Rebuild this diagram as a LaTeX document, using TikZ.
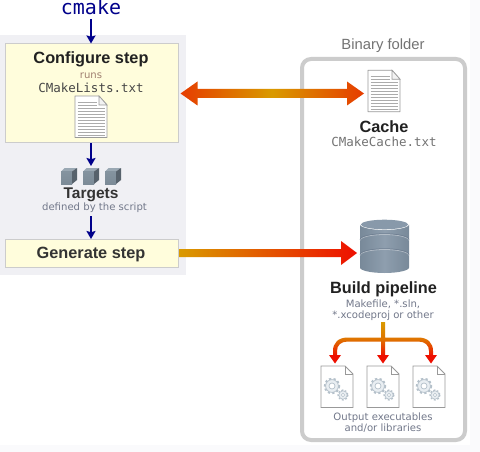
\documentclass[tikz,border=0pt]{standalone}
\usepackage{fontspec}
\setmainfont{Liberation Sans}
\newfontfamily\djsans{DejaVu Sans}
\newfontfamily\djmono{DejaVu Sans Mono}
\usetikzlibrary{arrows.meta,calc}
\definecolor{panelgray}{HTML}{F0F0F4}
\definecolor{pagetint}{HTML}{FAFAFC}
\definecolor{stepfill}{HTML}{FFFDDC}
\definecolor{stepline}{HTML}{CCCCCC}
\definecolor{navyline}{HTML}{00008B}
\definecolor{amber}{HTML}{D99A00}
\definecolor{hotorange}{HTML}{E63C00}
\definecolor{hotred}{HTML}{EE0F00}
\definecolor{docline}{HTML}{999999}
\definecolor{docrule}{HTML}{ABABAB}
\definecolor{gearline}{HTML}{B4C0CA}
\definecolor{gearfill}{HTML}{E9EEF2}
\definecolor{smalltext}{HTML}{72788A}
\definecolor{runstext}{HTML}{A08070}
\definecolor{cubefront}{HTML}{84939F}
\definecolor{cubefrontb}{HTML}{7C8B97}
\definecolor{cubetop}{HTML}{9AA8B3}
\definecolor{cubeside}{HTML}{57626C}
\definecolor{dbedge}{HTML}{788999}
\definecolor{dbmid}{HTML}{8E9EAE}
\definecolor{dbtop}{HTML}{8899AA}
\definecolor{dbseam}{HTML}{66768A}
\tikzset{
  x=1pt,y=-1pt,
  lab/.style={anchor=base,inner sep=0pt,align=center},
  boldlab/.style={lab,font=\fontsize{16.3}{16.3}\selectfont\bfseries},
  smalllab/.style={lab,font=\djsans\fontsize{10.1}{10.1}\selectfont,text=smalltext},
  monolab/.style={lab,font=\djmono\fontsize{12.5}{12.5}\selectfont},
  stepbox/.style={draw=stepline,fill=stepfill,line width=1pt,inner sep=0pt},
  iconbox/.style={inner sep=0pt,outer sep=0pt},
  navyarrow/.style={draw=navyline,line width=1.7pt,-{Stealth[length=8pt,width=9pt,inset=1.2pt]}},
  docicon/.pic={
    \fill[white] (0,0) -- (24,0) -- (32,9) -- (32,41.5) -- (0,41.5) -- cycle;
    \foreach \yy in {6,9,...,39} {
      \draw[docrule,line width=.6pt] (2.5,\yy) -- (\ifnum\yy<10 22\else 29.5\fi,\yy);
    }
    \draw[docline,line width=.9pt,line join=round] (0,0) -- (24,0) -- (32,9) -- (32,41.5) -- (0,41.5) -- cycle;
    \draw[docline,line width=.6pt,fill=black!5] (24,0) -- (24,9) -- (32,9) -- cycle;
  },
  gearicon/.pic={
    \fill[white] (0,0) -- (24,0) -- (32,8) -- (32,41.5) -- (0,41.5) -- cycle;
    \draw[docline,line width=.9pt] (0,0) -- (24,0) -- (32,8) -- (32,41.5) -- (0,41.5) -- cycle;
    \draw[docline,line width=.6pt] (24,0) -- (24,8) -- (32,8);
    \draw[gearline,line width=2pt,dash pattern=on 2.2pt off 2.2pt] (11,20) circle[radius=7.2];
    \draw[gearline,fill=gearfill,line width=.7pt] (11,20) circle[radius=6.4];
    \draw[gearline,fill=white,line width=.7pt] (11,20) circle[radius=3];
    \draw[gearline,line width=1.6pt,dash pattern=on 1.7pt off 1.7pt] (22,29) circle[radius=4.8];
    \draw[gearline,fill=gearfill,line width=.6pt] (22,29) circle[radius=4.2];
    \draw[gearline,fill=white,line width=.6pt] (22,29) circle[radius=1.8];
  },
  cubeicon/.pic={
    \fill[cubetop] (0,3.5) -- (3.5,0) -- (16,0) -- (11,3.5) -- cycle;
    \shade[top color=cubefront,bottom color=cubefrontb] (0,3.5) rectangle (11,16);
    \fill[cubeside] (11,3.5) -- (16,0) -- (16,12) -- (11,16) -- cycle;
  },
  dbicon/.pic={
    \shade[left color=dbedge,right color=dbedge,middle color=dbmid]
      (0,5.5) arc[start angle=180,end angle=0,x radius=24.5,y radius=5.5]
      -- (49,48.5) arc[start angle=0,end angle=180,x radius=24.5,y radius=5.5] -- cycle;
    \draw[white,line width=.8pt,opacity=.4] (0,21.5) arc[start angle=180,end angle=360,x radius=24.5,y radius=6];
    \draw[dbseam,line width=.7pt,opacity=.7] (0,20.7) arc[start angle=180,end angle=360,x radius=24.5,y radius=6];
    \draw[white,line width=.8pt,opacity=.4] (0,36.5) arc[start angle=180,end angle=360,x radius=24.5,y radius=6];
    \draw[dbseam,line width=.7pt,opacity=.7] (0,35.7) arc[start angle=180,end angle=360,x radius=24.5,y radius=6];
    \fill[dbtop] (24.5,5.5) ellipse[x radius=23.5,y radius=4.8];
  }
}
\begin{document}
\begin{tikzpicture}
\useasboundingbox (0,0) rectangle (480,452);
\fill[pagetint] (0,0) rectangle (480,452);
\fill[white] (0,0) rectangle (470,445);
\fill[panelgray] (0,35) rectangle (186,275);

% binary folder
\node[draw=stepline,line width=4pt,rounded corners=9pt,minimum width=163,minimum height=381,inner sep=0pt] (folder) at (383.5,249.5) {};
\node[lab,font=\fontsize{14.8}{14.8}\selectfont,text=black!55] (binlabel) at (383,49.5) {Binary folder};

% left column
\node[lab,font=\djmono\fontsize{20}{20}\selectfont,text=navyline] (cmake) at (91,15) {cmake};
\node[stepbox,minimum width=173,minimum height=99] (configure) at (91.5,93.5) {};
\node[boldlab,text=black!87] (conftitle) at (91,63.5) {Configure step};
\node[lab,font=\djsans\fontsize{10.1}{10.1}\selectfont,text=runstext] (runs) at (91,79) {runs};
\node[monolab,text=black!72] (cmakelists) at (91,92.3) {CMakeLists.txt};
\node[iconbox,minimum width=32,minimum height=41.5] (cfgdoc) at (91,116.75) {};
\pic at (cfgdoc.north west) {docicon};

\node[iconbox,minimum width=60,minimum height=16] (cubes) at (91,176) {};
\pic at (61,168) {cubeicon};
\pic at (83,168) {cubeicon};
\pic at (105,168) {cubeicon};
\node[boldlab,font=\fontsize{15.5}{15.5}\selectfont\bfseries,text=black!80] (targets) at (91,198.5) {Targets};
\node[smalllab] (defined) at (94.5,211) {defined by the script};

\node[stepbox,minimum width=173,minimum height=28] (generate) at (91.5,253) {};
\node[boldlab,text=black!80] (gentitle) at (91,258) {Generate step};

\coordinate (cmakefoot) at (91,19);
\coordinate (configfoot) at (91,143.5);
\coordinate (cubestop) at (91,166);
\coordinate (definedfoot) at (91,216);
\coordinate (gentop) at (91,239);
\draw[navyarrow] (cmakefoot) -- (configure.north -| cmakefoot);
\draw[navyarrow] (configfoot) -- (cubestop);
\draw[navyarrow] (definedfoot) -- (gentop);

% right column
\node[iconbox,minimum width=32,minimum height=41.5] (cachedoc) at (384,91) {};
\pic at (cachedoc.north west) {docicon};
\node[boldlab,text=black!87] (cache) at (384,132.5) {Cache};
\node[monolab,text=black!55] (cachefile) at (384,146.3) {CMakeCache.txt};

\node[iconbox,minimum width=49,minimum height=54] (db) at (384.5,246) {};
\pic at (db.north west) {dbicon};
\node[boldlab,text=black!87] (build) at (383.5,293) {Build pipeline};
\node[smalllab] (makefile) at (383,307) {Makefile, *.sln,};
\node[smalllab] (xcode) at (383,318) {*.xcodeproj or other};

\node[iconbox,minimum width=32,minimum height=41.5] (out1) at (337,386.75) {};
\node[iconbox,minimum width=32,minimum height=41.5] (out2) at (383,386.75) {};
\node[iconbox,minimum width=32,minimum height=41.5] (out3) at (429,386.75) {};
\pic at (out1.north west) {gearicon};
\pic at (out2.north west) {gearicon};
\pic at (out3.north west) {gearicon};
\node[smalllab] (outa) at (383,420) {Output executables};
\node[smalllab] (outb) at (383,431) {and/or libraries};

% gradient connectors
\shade[left color=hotorange,right color=hotorange,middle color=amber]
  ($(configure.east)+(2,0)$) -- ++(17,-12) -- ++(0,7.5) -- ($(cachedoc.west |- configure.east)+(-21,-4.5)$)
  -- ++(0,-7.5) -- ++(17,12) -- ++(-17,12) -- ++(0,-7.5) -- ($(configure.east)+(19,4.5)$) -- ++(0,7.5) -- cycle;
\shade[left color=amber,right color=hotred]
  ($(generate.east)+(0.5,-4)$) -- ($(db.west |- generate.east)+(-19,-4)$) -- ++(0,-8) -- ++(16,12) -- ++(-16,12) -- ++(0,-8)
  -- ($(generate.east)+(0.5,4)$) -- cycle;
\shade[top color=amber,bottom color=hotred,middle color=amber!72!hotred]
  (381,322) -- (381,337.5) -- (348,337.5) .. controls (338,337.5) and (333,343) .. (333,351) -- (333,356)
  -- (337,356) -- (337,351) .. controls (337,345) and (341,341.5) .. (348,341.5)
  -- (381,341.5) -- (381,356) -- (385,356) -- (385,341.5)
  -- (418,341.5) .. controls (425,341.5) and (429,345) .. (429,351) -- (429,356)
  -- (433,356) -- (433,351) .. controls (433,343) and (428,337.5) .. (418,337.5)
  -- (385,337.5) -- (385,322) -- cycle;
\fill[hotred] (329,355) -- (335,363.5) -- (341,355) -- cycle
  (377,355) -- (383,363.5) -- (389,355) -- cycle
  (425,355) -- (431,363.5) -- (437,355) -- cycle;
\end{tikzpicture}
\end{document}
